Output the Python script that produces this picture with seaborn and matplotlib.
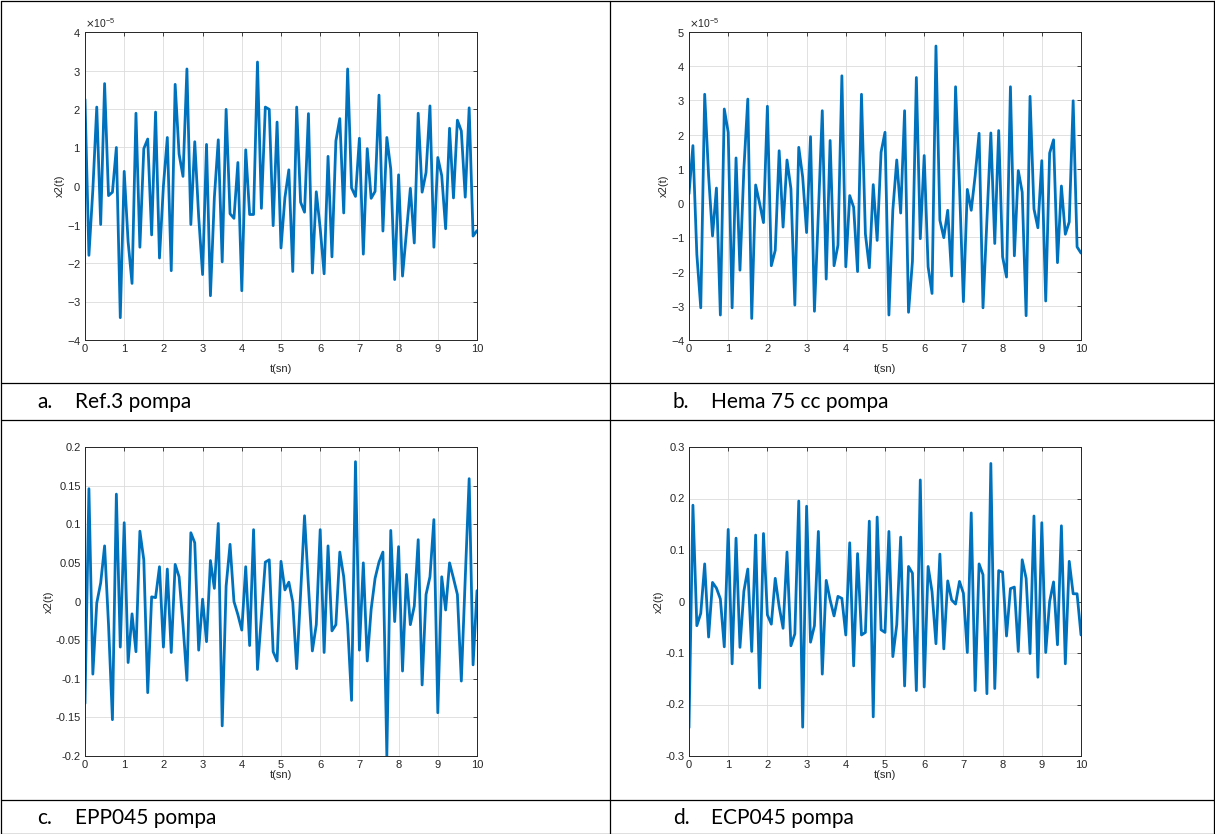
import numpy as np
import pandas as pd
import matplotlib
matplotlib.use("Agg")
import matplotlib.pyplot as plt
from matplotlib.lines import Line2D
from matplotlib.ticker import FuncFormatter, MultipleLocator, ScalarFormatter
import seaborn as sns

# time grid (s)
t = np.linspace(0, 10, 101)

# x2(t) responses for each pump
ref3_x2 = [2.25, -1.80, -0.10, 2.05, -1.00, 2.66, -0.25, -0.16, 1.00, -3.42,
           0.38, -1.45, -2.53, 1.89, -1.59, 0.97, 1.22, -1.27, 1.92, -1.87,
           0.00, 1.26, -2.20, 2.64, 0.83, 0.25, 3.04, -1.00, 1.15, -0.80,
           -2.30, 1.08, -2.85, -0.30, 1.20, -1.97, 1.99, -0.72, -0.84, 0.61,
           -2.72, 0.94, -0.74, -0.74, 3.22, -0.58, 2.05, 1.99, -1.03, 1.66,
           -1.61, -0.30, 0.42, -2.22, 2.05, -0.42, -0.68, 1.88, -2.26, -0.15,
           -1.10, -2.28, 0.77, -1.84, 1.17, 1.75, -0.70, 3.04, -0.05, -0.27,
           1.24, -1.77, 0.97, -0.32, -0.14, 2.36, -1.17, 1.26, 0.44, -2.43,
           0.29, -2.34, -1.20, -0.06, -1.48, 1.89, -0.16, 0.35, 2.08, -1.59,
           0.74, 0.27, -1.11, 1.50, -0.31, 1.71, 1.43, -0.29, 2.03, -1.30,
           -1.16]  # x 1e-5

hema75_x2 = [0.27, 1.68, -1.50, -3.06, 3.18, 0.80, -0.96, 0.44, -3.27, 2.75,
             2.07, -3.06, 1.32, -1.96, 1.00, 3.04, -3.37, 0.53, 0.00, -0.57,
             2.83, -1.83, -1.38, 1.53, -0.70, 1.26, 0.42, -2.98, 1.63, 0.76,
             -0.86, 1.94, -3.16, -0.30, 2.70, -2.22, 1.83, -1.83, -1.23, 3.72,
             -1.86, 0.22, -0.12, -2.00, 3.18, -0.90, -1.89, 0.54, -1.09, 1.49,
             2.07, -3.27, -0.20, 1.26, -0.29, 2.70, -3.19, -1.70, 3.67, -1.04,
             1.39, -1.86, -2.64, 4.59, -0.50, -1.01, -0.21, -2.13, 3.40, 0.50,
             -2.88, 0.40, -0.21, 0.80, 2.04, -3.06, -0.50, 2.05, -1.18, 2.12,
             -1.57, -2.16, 3.40, -1.54, 0.95, 0.32, -3.29, 3.12, -0.17, -0.72,
             1.24, -2.86, 1.46, 1.85, -1.74, 0.50, -0.91, -0.55, 2.99, -1.28,
             -1.46]  # x 1e-5

epp045_x2 = [-0.132, 0.146, -0.094, -0.002, 0.024, 0.072, -0.030, -0.153, 0.139, -0.059,
             0.102, -0.079, -0.016, -0.065, 0.091, 0.054, -0.118, 0.006, 0.005, 0.045,
             -0.059, 0.042, -0.066, 0.048, 0.032, -0.030, -0.102, 0.089, 0.076, -0.063,
             0.003, -0.052, 0.053, 0.017, 0.101, -0.161, 0.020, 0.074, 0.000, -0.017,
             -0.037, 0.045, -0.057, 0.093, -0.088, -0.019, 0.051, 0.054, -0.065, -0.077,
             0.052, 0.015, 0.025, -0.001, -0.087, 0.010, 0.111, 0.020, -0.064, -0.030,
             0.093, -0.066, 0.072, -0.038, -0.030, 0.064, 0.032, -0.030, -0.128, 0.181,
             -0.063, 0.050, -0.077, -0.010, 0.030, 0.051, 0.064, -0.200, 0.092, -0.026,
             0.071, -0.090, 0.035, -0.030, -0.006, 0.080, -0.108, 0.009, 0.032, 0.106,
             -0.144, 0.032, -0.011, 0.050, 0.030, 0.009, -0.103, 0.030, 0.159, -0.082,
             0.014]

ecp045_x2 = [-0.245, 0.187, -0.047, -0.023, 0.073, -0.069, 0.037, 0.026, 0.005, -0.088,
             0.140, -0.121, 0.123, -0.089, 0.020, 0.063, -0.097, 0.129, -0.168, 0.132,
             -0.026, -0.044, 0.045, -0.010, -0.052, 0.096, -0.086, -0.063, 0.195, -0.244,
             0.185, -0.079, -0.047, 0.136, -0.141, 0.041, 0.003, -0.028, 0.010, 0.006,
             -0.065, 0.114, -0.125, 0.093, -0.065, -0.060, 0.156, -0.224, 0.164, -0.055,
             -0.060, 0.136, -0.107, -0.045, 0.125, -0.164, 0.068, 0.055, -0.173, 0.236,
             -0.166, 0.068, 0.019, -0.082, 0.092, -0.092, 0.040, 0.003, -0.005, 0.039,
             0.016, -0.099, 0.172, -0.173, 0.073, 0.052, -0.179, 0.268, -0.169, 0.060,
             0.057, -0.067, 0.025, 0.028, -0.097, 0.081, 0.045, -0.101, 0.166, -0.147,
             0.153, -0.099, 0.000, 0.038, -0.084, 0.147, -0.121, 0.078, 0.015, 0.015,
             -0.065]

captions = [("a.", "Ref.3 pompa"), ("b.", "Hema 75 cc pompa"),
            ("c.", "EPP045 pompa"), ("d.", "ECP045 pompa")]

sns.set_style("white")
plt.rcParams['font.family'] = ['Liberation Sans', 'DejaVu Sans']
plt.rcParams['axes.unicode_minus'] = False

W, H = 1215, 834
fig = plt.figure(figsize=(W / 100, H / 100), dpi=100)
fig.patch.set_facecolor("white")

LINE_C = "#0072BD"
TXT_C = "#262626"


def px_axes(left, top, right, bottom):
    return fig.add_axes([left / W, 1 - bottom / H, (right - left) / W, (bottom - top) / H])


def style_axes(ax, ylim, ystep, sci=False, xlabelpad=7):
    ax.set_xlim(0, 10)
    ax.set_ylim(*ylim)
    ax.xaxis.set_major_locator(MultipleLocator(1))
    ax.yaxis.set_major_locator(MultipleLocator(ystep))
    ax.xaxis.set_major_formatter(FuncFormatter(lambda v, p: f"{v:g}"))
    if sci:
        fmt = ScalarFormatter(useMathText=True)
        fmt.set_powerlimits((0, 0))
        ax.yaxis.set_major_formatter(fmt)
        ax.yaxis.get_offset_text().set_fontsize(7.5)
        ax.yaxis.get_offset_text().set_color(TXT_C)
    else:
        ax.yaxis.set_major_formatter(FuncFormatter(lambda v, p: f"{round(v, 4):g}"))
    ax.grid(True, color="#dcdcdc", linewidth=0.6)
    ax.set_axisbelow(True)
    ax.tick_params(direction="in", top=True, right=True, length=3, width=0.6,
                   labelsize=8, colors=TXT_C, pad=3)
    for s in ax.spines.values():
        s.set_visible(True)
        s.set_color(TXT_C)
        s.set_linewidth(0.7)
    ax.set_xlabel("t(sn)", fontsize=8, color=TXT_C, labelpad=xlabelpad)
    ax.set_ylabel("x2(t)", fontsize=8, color=TXT_C, labelpad=1)


panels = [
    ((85, 32, 477, 340), np.array(ref3_x2) * 1e-5, (-4e-5, 4e-5), 1e-5, True, 7),
    ((689, 32, 1081, 340), np.array(hema75_x2) * 1e-5, (-4e-5, 5e-5), 1e-5, True, 7),
    ((85, 447, 477, 756), np.array(epp045_x2), (-0.2, 0.2), 0.05, False, 0),
    ((689, 447, 1081, 756), np.array(ecp045_x2), (-0.3, 0.3), 0.1, False, 0),
]

for box, vals, ylim, ystep, sci, lp in panels:
    ax = px_axes(*box)
    df = pd.DataFrame({"t": t, "x2": vals})
    sns.lineplot(data=df, x="t", y="x2", ax=ax, color=LINE_C, linewidth=2)
    style_axes(ax, ylim, ystep, sci, lp)


# table frame around the panels
def hline(y, x0=0.5, x1=1214.5):
    fig.add_artist(Line2D([x0 / W, x1 / W], [1 - y / H, 1 - y / H], color="black", linewidth=0.9))


def vline(x, y0=0.5, y1=833.5):
    fig.add_artist(Line2D([x / W, x / W], [1 - y0 / H, 1 - y1 / H], color="black", linewidth=0.9))


for y in (0.5, 383, 420, 800, 833.5):
    hline(y)
for x in (0.8, 610, 1213.8):
    vline(x)

# captions
cap_pos = [(37, 402), (673, 402), (37, 818), (673, 818)]
for (lab, txt), (x, y) in zip(captions, cap_pos):
    fig.text(x / W, 1 - y / H, lab, fontsize=15, family=['Lato', 'DejaVu Sans'],
             va="center", ha="left", color="black")
    fig.text((x + 38) / W, 1 - y / H, txt, fontsize=15, family=['Lato', 'DejaVu Sans'],
             va="center", ha="left", color="black")

fig.savefig("out.png", dpi=100, facecolor="white")
